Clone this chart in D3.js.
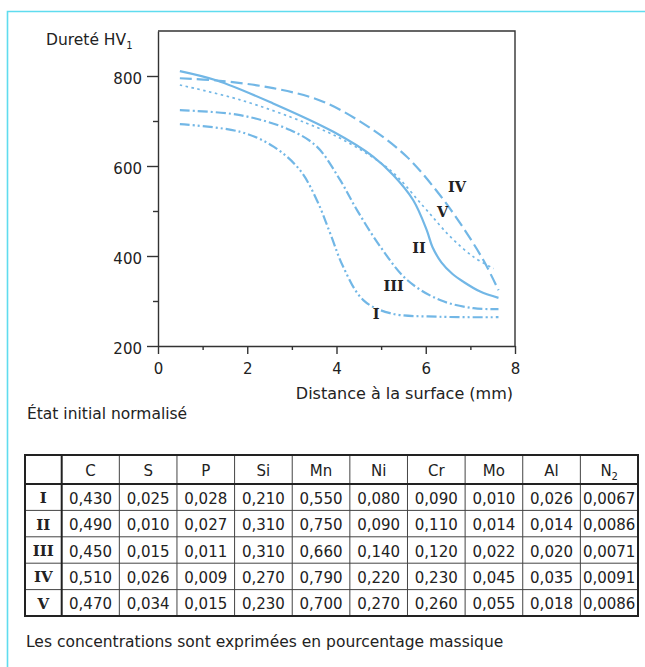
<!DOCTYPE html>
<html>
<head>
<meta charset="utf-8">
<script src="https://cdn.jsdelivr.net/npm/d3@7"></script>
<style>
  body { margin: 0; background: #fff; }
  svg { display: block; }
  text { font-family: "DejaVu Sans", sans-serif; fill: #222; }
  .roman { font-family: "DejaVu Serif", serif; font-weight: bold; }
</style>
</head>
<body>
<script>
// hardness profiles (distance in mm, hardness HV1)
var distI = [0.49, 1.84, 2.59, 3.18, 3.56, 3.86, 4.15, 4.60, 5.20, 6.32, 7.63];
var hardI = [693, 676, 643, 591, 524, 450, 376, 302, 273, 265, 264];
var distII = [0.49, 1.32, 2.58, 3.93, 4.82, 5.27, 5.72, 6.02, 6.15, 6.35, 6.60, 6.84, 7.22, 7.63];
var hardII = [811, 790, 739, 676, 621, 580, 524, 458, 420, 386, 360, 343, 321, 307];
var distIII = [0.49, 1.84, 2.96, 3.56, 4.08, 4.46, 4.98, 5.58, 6.32, 7.07, 7.63];
var hardIII = [724, 713, 680, 643, 569, 502, 421, 347, 302, 284, 282];
var distIV = [0.49, 1.32, 2.58, 3.70, 4.82, 5.57, 6.17, 6.77, 7.29, 7.63];
var hardIV = [795, 790, 773, 743, 680, 621, 554, 473, 391, 324];
var distV = [0.49, 1.84, 3.33, 4.15, 5.20, 5.95, 6.55, 7.07, 7.52];
var hardV = [780, 747, 695, 658, 591, 510, 443, 398, 372];

var steels = ["I", "II", "III", "IV", "V"];
var labelX = [4.89, 5.85, 5.28, 6.70, 6.38];
var labelY = [261, 407, 323, 543, 487];

var xTicks = [0, 2, 4, 6, 8];
var yTicks = [200, 400, 600, 800];

// composition table
var elements = ["C", "S", "P", "Si", "Mn", "Ni", "Cr", "Mo", "Al", "N"];
var compI = [0.430, 0.025, 0.028, 0.210, 0.550, 0.080, 0.090, 0.010, 0.026, 0.0067];
var compII = [0.490, 0.010, 0.027, 0.310, 0.750, 0.090, 0.110, 0.014, 0.014, 0.0086];
var compIII = [0.450, 0.015, 0.011, 0.310, 0.660, 0.140, 0.120, 0.022, 0.020, 0.0071];
var compIV = [0.510, 0.026, 0.009, 0.270, 0.790, 0.220, 0.230, 0.045, 0.035, 0.0091];
var compV = [0.470, 0.034, 0.015, 0.230, 0.700, 0.270, 0.260, 0.055, 0.018, 0.0086];

var curves = [
    {name: "I", x: distI, y: hardI, dash: "10,3,2,3,2,3", w: 2.2},
    {name: "II", x: distII, y: hardII, dash: null, w: 2.2},
    {name: "III", x: distIII, y: hardIII, dash: "10,3,2,3", w: 2.2},
    {name: "IV", x: distIV, y: hardIV, dash: "12,5", w: 2.2},
    {name: "V", x: distV, y: hardV, dash: "2.5,3.5", w: 1.7}
];
var rows = [compI, compII, compIII, compIV, compV];

var svg = d3.select("body").append("svg")
    .attr("width", 645)
    .attr("height", 667);

var blue = "#72b7e6";

// cyan page frame
svg.append("path")
    .attr("d", "M7.5,667V11.5H645")
    .attr("fill", "none")
    .attr("stroke", "#5fdcef")
    .attr("stroke-width", 1.6);

var x = d3.scaleLinear().domain([0, 8]).range([158, 515]);
var y = d3.scaleLinear().domain([200, 900]).range([346, 31]);

var g = svg.append("g");

// minor ticks
g.append("g")
    .attr("transform", "translate(0," + y(200) + ")")
    .call(d3.axisBottom(x).tickValues([1, 3, 5, 7]).tickSize(4).tickFormat(""))
    .call(function (a) { a.select(".domain").remove(); });
g.append("g")
    .attr("transform", "translate(" + x(0) + ",0)")
    .call(d3.axisLeft(y).tickValues([300, 500, 700]).tickSize(5).tickFormat(""))
    .call(function (a) { a.select(".domain").remove(); });

var xAxis = g.append("g")
    .attr("transform", "translate(0," + y(200) + ")")
    .call(d3.axisBottom(x).tickValues(xTicks).tickSize(8).tickPadding(9).tickSizeOuter(0));
var yAxis = g.append("g")
    .attr("transform", "translate(" + x(0) + ",0)")
    .call(d3.axisLeft(y).tickValues(yTicks).tickSize(11).tickPadding(5).tickSizeOuter(0));

g.selectAll(".tick text")
    .style("font-family", "DejaVu Sans, sans-serif")
    .style("font-size", "15px")
    .attr("fill", "#222");
yAxis.selectAll(".tick text").attr("dy", "0.48em");
g.selectAll(".domain, .tick line")
    .attr("stroke", "#333")
    .attr("stroke-width", 1.4);

// top and right frame
g.append("path")
    .attr("d", "M" + x(0) + "," + y(900) + "H" + x(8) + "V" + y(200))
    .attr("fill", "none")
    .attr("stroke", "#333")
    .attr("stroke-width", 1.4);

var line = d3.line()
    .x(function (d) { return x(d[0]); })
    .y(function (d) { return y(d[1]); })
    .curve(d3.curveCatmullRom.alpha(0.5));

g.selectAll(".curve")
    .data(curves)
    .enter().append("path")
    .attr("class", "curve")
    .attr("fill", "none")
    .attr("stroke", blue)
    .attr("stroke-width", function (d) { return d.w; })
    .attr("stroke-dasharray", function (d) { return d.dash; })
    .attr("d", function (d) {
        return line(d.x.map(function (v, i) { return [v, d.y[i]]; }));
    });

g.selectAll(".clabel")
    .data(steels)
    .enter().append("text")
    .attr("class", "roman")
    .attr("x", function (d, i) { return x(labelX[i]); })
    .attr("y", function (d, i) { return y(labelY[i]); })
    .attr("text-anchor", "middle")
    .style("font-size", "14.5px")
    .text(function (d) { return d; });

// axis titles
var title = svg.append("text")
    .attr("x", 46)
    .attr("y", 45)
    .style("font-size", "15.5px")
    .text("Dureté HV");
title.append("tspan")
    .attr("dy", 4)
    .style("font-size", "10px")
    .text("1");

svg.append("text")
    .attr("x", x(8) - 2)
    .attr("y", 399)
    .attr("text-anchor", "end")
    .style("font-size", "16px")
    .text("Distance à la surface (mm)");

svg.append("text")
    .attr("x", 27)
    .attr("y", 419)
    .style("font-size", "15.5px")
    .text("État initial normalisé");

// table
var tLeft = 25, tFirst = 61.7, tRight = 638;
var tTop = 455, tHead = 484, tBottom = 616;

var col = d3.scaleBand().domain(elements).range([tFirst, tRight]);
var row = d3.scaleBand().domain(steels).range([tHead, tBottom]);

var fmt3 = d3.format(".3f"), fmt4 = d3.format(".4f");
function frNum(v, j) {
    return (j == 9 ? fmt4(v) : fmt3(v)).replace(".", ",");
}

var tg = svg.append("g");

// inner grid lines
tg.selectAll(".vline")
    .data(elements.slice(1))
    .enter().append("line")
    .attr("x1", function (d) { return col(d); })
    .attr("x2", function (d) { return col(d); })
    .attr("y1", tTop).attr("y2", tBottom)
    .attr("stroke", "#444").attr("stroke-width", 1);
tg.selectAll(".hline")
    .data(steels.slice(1))
    .enter().append("line")
    .attr("x1", tLeft).attr("x2", tRight)
    .attr("y1", function (d) { return row(d); })
    .attr("y2", function (d) { return row(d); })
    .attr("stroke", "#444").attr("stroke-width", 1);

tg.append("line")
    .attr("x1", tLeft).attr("x2", tRight)
    .attr("y1", tHead).attr("y2", tHead)
    .attr("stroke", "#222").attr("stroke-width", 2);
tg.append("line")
    .attr("x1", tFirst).attr("x2", tFirst)
    .attr("y1", tTop).attr("y2", tBottom)
    .attr("stroke", "#222").attr("stroke-width", 2);
tg.append("rect")
    .attr("x", tLeft).attr("y", tTop)
    .attr("width", tRight - tLeft).attr("height", tBottom - tTop)
    .attr("fill", "none")
    .attr("stroke", "#222").attr("stroke-width", 2);

var head = tg.selectAll(".head")
    .data(elements)
    .enter().append("text")
    .attr("x", function (d) { return col(d) + col.bandwidth() / 2; })
    .attr("y", (tTop + tHead) / 2 + 6.5)
    .attr("text-anchor", "middle")
    .style("font-size", "15px")
    .text(function (d) { return d; });
head.filter(function (d) { return d == "N"; })
    .append("tspan")
    .attr("dy", 4)
    .style("font-size", "10px")
    .text("2");

tg.selectAll(".rlabel")
    .data(steels)
    .enter().append("text")
    .attr("class", "roman")
    .attr("x", (tLeft + tFirst) / 2)
    .attr("y", function (d) { return row(d) + row.bandwidth() / 2 + 6; })
    .attr("text-anchor", "middle")
    .style("font-size", "15px")
    .text(function (d) { return d; });

rows.forEach(function (vals, i) {
    tg.selectAll(".cell" + i)
        .data(vals)
        .enter().append("text")
        .attr("x", function (d, j) { return col(elements[j]) + col.bandwidth() / 2; })
        .attr("y", row(steels[i]) + row.bandwidth() / 2 + 6.5)
        .attr("text-anchor", "middle")
        .style("font-size", "15px")
        .text(function (d, j) { return frNum(d, j); });
});

svg.append("text")
    .attr("x", 26)
    .attr("y", 647)
    .style("font-size", "15.5px")
    .text("Les concentrations sont exprimées en pourcentage massique");
</script>
</body>
</html>
